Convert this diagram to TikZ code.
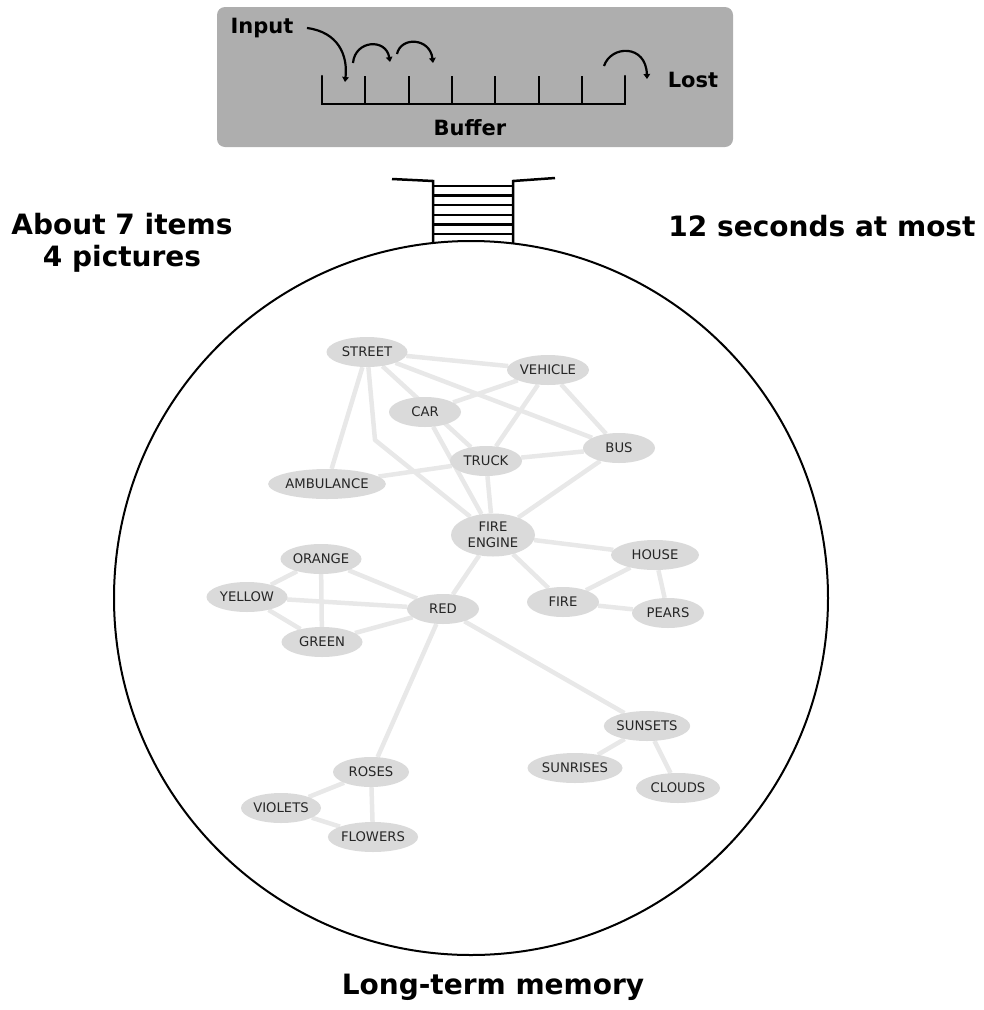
\documentclass[tikz,border=0pt]{standalone}
\usepackage{fontspec}
\setmainfont{DejaVu Sans}
\usetikzlibrary{arrows.meta,shapes.geometric,backgrounds}

\tikzset{
  word/.style={ellipse, fill=nodegray, inner sep=0pt, minimum width=72pt, minimum height=30pt,
                text=black!85, font=\fontsize{13.2}{15.5}\selectfont, align=center},
  link/.style={draw=linkgray, line width=4.5pt},
  hop/.style={line width=2.2pt, -{Triangle[length=5pt,width=6.5pt]}},
  big/.style={font=\fontsize{28}{32}\selectfont\bfseries, align=center}
}
\definecolor{nodegray}{HTML}{DADADA}
\definecolor{linkgray}{HTML}{E8E8E8}
\definecolor{boxgray}{HTML}{AEAEAE}

\begin{document}
\begin{tikzpicture}[x=1pt, y=-1pt]

\useasboundingbox (0,0) rectangle (984,1010);

% buffer box
\draw [fill=boxgray, draw=none, rounded corners=8pt] (217,7) rectangle (733,147);

\node (input) at (262,28) [font=\fontsize{21}{24}\selectfont\bfseries] {Input};
\node (lost) at (693,80) [font=\fontsize{21}{24}\selectfont\bfseries] {Lost};
\node (buffer) at (470,128) [font=\fontsize{21}{24}\selectfont\bfseries] {Buffer};

\draw [line width=2.5pt, line cap=round] (322,76) -- (322,104) -- (625,104) -- (625,76);
\foreach \x in {365,409,452,495,539,582}
  \draw [line width=2.5pt] (\x,76) -- (\x,104);

\coordinate (slot1) at (345,82);
\coordinate (h1a) at (353,63);
\coordinate (h1b) at (390,62);
\coordinate (h2a) at (397,54);
\coordinate (h2b) at (433,63);
\coordinate (outa) at (604,66);
\coordinate (outb) at (647,79);

\draw [hop] ([xshift=10pt]input.east) .. controls (338,32) and (348,55) .. (slot1);
\draw [hop] (h1a) .. controls (355,40) and (386,38) .. (h1b);
\draw [hop] (h2a) .. controls (401,36) and (430,38) .. (h2b);
\draw [hop] (outa) .. controls (611,45) and (646,44) .. (outb);

% side texts
\node (span) at (122,243) [big] {About 7 items\\4 pictures};
\node (time) at (822,226) [big] {12 seconds at most};
\node (ltm) at (493,987) [big] {Long-term memory};

% neck and circle
\draw [line width=2pt] (471,598) circle (357);
\draw [line width=2.5pt] (392,179) -- (433,181) -- (433,243);
\draw [line width=2.5pt] (555,178) -- (513,181) -- (513,243);
\foreach \i in {0,...,5}
  \draw [line width=2.5pt] (433,186+9.6*\i) -- (513,186+9.6*\i);

% words
\node (street) at (367,352) [word, minimum width=81pt] {STREET};
\node (vehicle) at (548,370) [word, minimum width=82pt] {VEHICLE};
\node (car) at (425,412) [word] {CAR};
\node (bus) at (619,448) [word] {BUS};
\node (truck) at (486,461) [word] {TRUCK};
\node (ambulance) at (327,484) [word, minimum width=109pt] {AMBULANCE};
\node (engine) at (493,535) [word, minimum width=84pt, minimum height=43pt] {FIRE\\ENGINE};
\node (house) at (655,555) [word, minimum width=88pt] {HOUSE};
\node (fire) at (563,602) [word] {FIRE};
\node (pears) at (668,613) [word] {PEARS};
\node (orange) at (321,559) [word, minimum width=81pt] {ORANGE};
\node (yellow) at (247,597) [word, minimum width=81pt] {YELLOW};
\node (red) at (443,609) [word] {RED};
\node (green) at (322,642) [word, minimum width=81pt] {GREEN};
\node (sunsets) at (647,726) [word, minimum width=80pt] {SUNSETS};
\node (sunrises) at (575,768) [word, minimum width=95pt] {SUNRISES};
\node (clouds) at (678,788) [word, minimum width=84pt] {CLOUDS};
\node (roses) at (371,772) [word, minimum width=76pt] {ROSES};
\node (violets) at (281,808) [word, minimum width=80pt] {VIOLETS};
\node (flowers) at (373,837) [word, minimum width=86pt] {FLOWERS};

\coordinate (bend) at (375,440);

\begin{pgfonlayer}{background}
\foreach \a/\b in {street/vehicle, street/truck, street/ambulance, street/bus,
                   vehicle/car, vehicle/truck, vehicle/bus, car/engine,
                   truck/bus, truck/ambulance, truck/engine, bus/engine,
                   engine/house, engine/fire, engine/red, house/fire, house/pears, fire/pears,
                   orange/yellow, orange/green, orange/red, yellow/red, yellow/green, green/red,
                   red/roses, red/sunsets, roses/violets, roses/flowers, violets/flowers,
                   sunsets/sunrises, sunsets/clouds}
  \draw [link] (\a) -- (\b);
\draw [link, line join=round] (street) -- (bend) -- (engine);
\end{pgfonlayer}

\end{tikzpicture}
\end{document}
